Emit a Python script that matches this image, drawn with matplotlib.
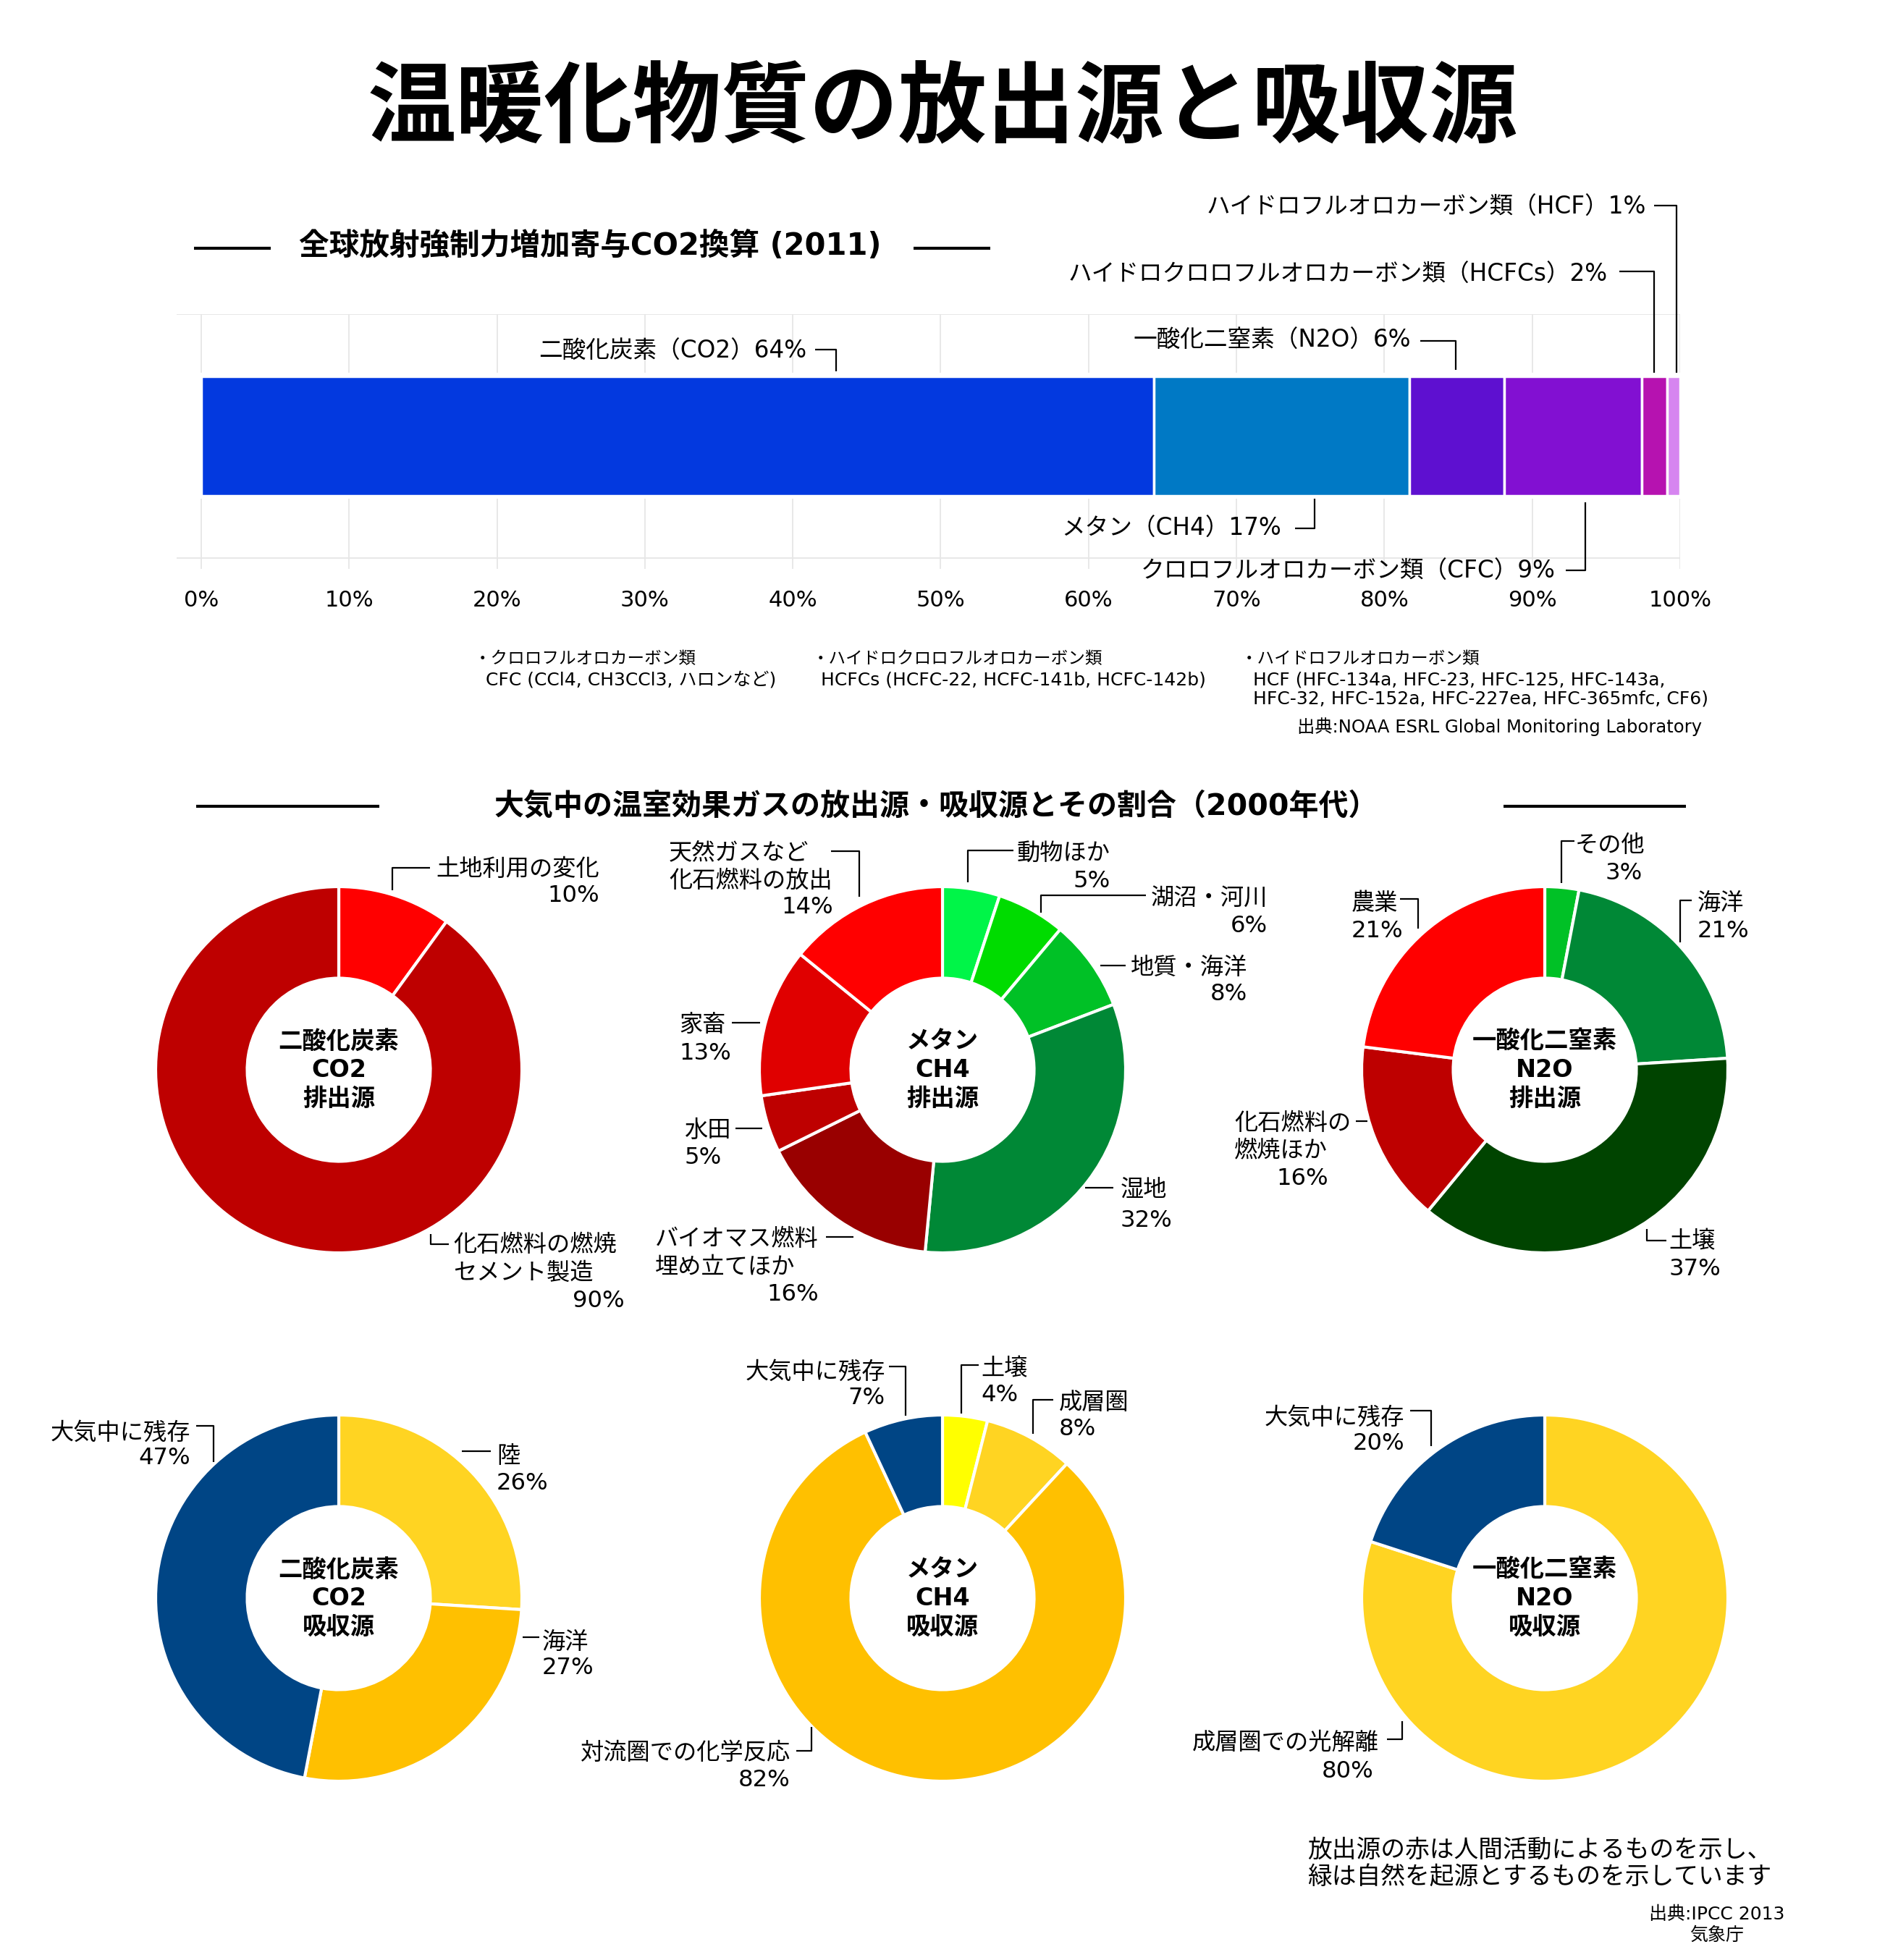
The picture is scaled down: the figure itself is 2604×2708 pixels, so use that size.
import numpy as np
import matplotlib
matplotlib.use('Agg')
import matplotlib.pyplot as plt

plt.rcParams['font.family'] = ['DejaVu Sans', 'Noto Sans CJK JP']

W, H = 2604, 2708
PX = 100 / 72  # pixels per point

# ---------------- data ----------------
title = '温暖化物質の放出源と吸収源'

bar_title = '全球放射強制力増加寄与CO2換算 (2011)'
bar_names = ['二酸化炭素（CO2）', 'メタン（CH4）', '一酸化二窒素（N2O）',
             'クロロフルオロカーボン類（CFC）',
             'ハイドロクロロフルオロカーボン類（HCFCs）',
             'ハイドロフルオロカーボン類（HCF）']
bar_shares = [64.4, 17.3, 6.4, 9.3, 1.7, 0.9]
bar_pct = [64, 17, 6, 9, 2, 1]
bar_colors = ['#0339df', '#0079c5', '#5e10d0', '#8210d2', '#b612b0', '#d685f0']
bar_ticks = [0, 10, 20, 30, 40, 50, 60, 70, 80, 90, 100]

notes = [
    ['・クロロフルオロカーボン類', 'CFC (CCl4, CH3CCl3, ハロンなど)'],
    ['・ハイドロクロロフルオロカーボン類', 'HCFCs (HCFC-22, HCFC-141b, HCFC-142b)'],
    ['・ハイドロフルオロカーボン類', 'HCF (HFC-134a, HFC-23, HFC-125, HFC-143a,',
     'HFC-32, HFC-152a, HFC-227ea, HFC-365mfc, CF6)'],
]
bar_source = '出典:NOAA ESRL Global Monitoring Laboratory'

donut_title = '大気中の温室効果ガスの放出源・吸収源とその割合（2000年代）'

co2_src_names = ['土地利用の変化', '化石燃料の燃焼\nセメント製造']
co2_src_values = [10, 90]
co2_src_shares = [10, 90]
co2_src_colors = ['#ff0000', '#be0000']

ch4_src_names = ['動物ほか', '湖沼・河川', '地質・海洋', '湿地', 'バイオマス燃料\n埋め立てほか',
                 '水田', '家畜', '天然ガスなど\n化石燃料の放出']
ch4_src_values = [5, 6, 8, 32, 16, 5, 13, 14]
ch4_src_shares = [5, 6, 8, 32, 16, 5, 13, 14]
ch4_src_colors = ['#00f548', '#00dc00', '#00c126', '#008836', '#990000',
                  '#be0000', '#e00000', '#ff0000']

n2o_src_names = ['その他', '海洋', '土壌', '化石燃料の\n燃焼ほか', '農業']
n2o_src_values = [3, 21, 37, 16, 21]
n2o_src_shares = [3, 21, 37, 16, 23]   # slice sizes as drawn
n2o_src_colors = ['#00c126', '#008836', '#004400', '#be0000', '#ff0000']

co2_sink_names = ['陸', '海洋', '大気中に残存']
co2_sink_values = [26, 27, 47]
co2_sink_shares = [26, 27, 47]
co2_sink_colors = ['#ffd422', '#ffc000', '#004585']

ch4_sink_names = ['土壌', '成層圏', '対流圏での化学反応', '大気中に残存']
ch4_sink_values = [4, 8, 82, 7]
ch4_sink_shares = [4, 8, 82, 7]
ch4_sink_colors = ['#ffff00', '#ffd422', '#ffc000', '#004585']

n2o_sink_names = ['成層圏での光解離', '大気中に残存']
n2o_sink_values = [80, 20]
n2o_sink_shares = [80, 20]
n2o_sink_colors = ['#ffd422', '#004585']

center_titles = [['二酸化炭素', 'CO2'], ['メタン', 'CH4'], ['一酸化二窒素', 'N2O']]
row_kinds = ['排出源', '吸収源']

foot_note = ['放出源の赤は人間活動によるものを示し、', '緑は自然を起源とするものを示しています']
foot_source = ['出典:IPCC 2013', '気象庁']

# ---------------- layout (pixels) ----------------
R = 253
col_x = [468, 1302, 2134]
row_y = [1478, 2208]

bar_label_pos = [(1114, 483), (1770, 728), (1949, 468), (2149, 787), (2221, 377), (2274, 284)]
bar_leaders = [
    [(1126, 483), (1155, 483), (1155, 513)],
    [(1789, 730), (1816, 730), (1816, 689)],
    [(1962, 471), (2011, 471), (2011, 511)],
    [(2163, 788), (2190, 788), (2190, 694)],
    [(2237, 375), (2285, 375), (2285, 515)],
    [(2285, 284), (2316, 284), (2316, 515)],
]

# per slice: (name x, first line y, ha), (pct x, y, ha), leader polyline
donut_layouts = [
    # CO2 source
    [((828, 1198, 'right'), (828, 1234, 'right'), [(594, 1199), (542, 1199), (542, 1230)]),
     ((626, 1717, 'left'), (863, 1794, 'right'), [(595, 1705), (595, 1719), (620, 1719)])],
    # CH4 source
    [((1534, 1176, 'right'), (1534, 1214, 'right'), [(1400, 1175), (1337, 1175), (1337, 1219)]),
     ((1751, 1238, 'right'), (1751, 1276, 'right'), [(1583, 1237), (1438, 1237), (1438, 1261)]),
     ((1723, 1334, 'right'), (1723, 1370, 'right'), [(1520, 1334), (1555, 1334)]),
     ((1548, 1641, 'left'), (1548, 1683, 'left'), [(1499, 1641), (1538, 1641)]),
     ((905, 1709, 'left'), (1131, 1785, 'right'), [(1141, 1709), (1179, 1709)]),
     ((945, 1559, 'left'), (945, 1596, 'left'), [(1016, 1559), (1053, 1559)]),
     ((938, 1413, 'left'), (938, 1452, 'left'), [(1011, 1413), (1050, 1413)]),
     ((924, 1175, 'left'), (1151, 1250, 'right'), [(1148, 1176), (1187, 1176), (1187, 1239)])],
    # N2O source
    [((2272, 1165, 'right'), (2269, 1203, 'right'), [(2175, 1162), (2157, 1162), (2157, 1220)]),
     ((2345, 1245, 'left'), (2345, 1283, 'left'), [(2337, 1244), (2321, 1244), (2321, 1302)]),
     ((2305, 1712, 'left'), (2305, 1750, 'left'), [(2275, 1698), (2275, 1714), (2302, 1714)]),
     ((1705, 1549, 'left'), (1835, 1625, 'right'), [(1873, 1549), (1889, 1549)]),
     ((1867, 1245, 'left'), (1867, 1283, 'left'), [(1934, 1242), (1959, 1242), (1959, 1283)])],
    # CO2 sink
    [((686, 2009, 'left'), (686, 2046, 'left'), [(638, 2005), (678, 2005)]),
     ((749, 2266, 'left'), (749, 2301, 'left'), [(722, 2262), (745, 2262)]),
     ((263, 1977, 'right'), (263, 2011, 'right'), [(271, 1970), (295, 1970), (295, 2020)])],
    # CH4 sink
    [((1355, 1888, 'left'), (1355, 1924, 'left'), [(1352, 1886), (1328, 1886), (1328, 1953)]),
     ((1463, 1935, 'left'), (1463, 1971, 'left'), [(1455, 1934), (1427, 1934), (1427, 1981)]),
     ((1092, 2419, 'right'), (1092, 2456, 'right'), [(1100, 2419), (1121, 2419), (1121, 2386)]),
     ((1223, 1893, 'right'), (1223, 1928, 'right'), [(1228, 1888), (1251, 1888), (1251, 1956)])],
    # N2O sink
    [((1905, 2405, 'right'), (1897, 2444, 'right'), [(1916, 2403), (1937, 2403), (1937, 2378)]),
     ((1940, 1956, 'right'), (1940, 1991, 'right'), [(1948, 1949), (1977, 1949), (1977, 1998)])],
]

donuts = [
    (co2_src_names, co2_src_values, co2_src_shares, co2_src_colors),
    (ch4_src_names, ch4_src_values, ch4_src_shares, ch4_src_colors),
    (n2o_src_names, n2o_src_values, n2o_src_shares, n2o_src_colors),
    (co2_sink_names, co2_sink_values, co2_sink_shares, co2_sink_colors),
    (ch4_sink_names, ch4_sink_values, ch4_sink_shares, ch4_sink_colors),
    (n2o_sink_names, n2o_sink_values, n2o_sink_shares, n2o_sink_colors),
]

fig = plt.figure(figsize=(W / 100, H / 100), dpi=100)
fig.patch.set_facecolor('white')

# ---------------- stacked bar ----------------
x0_px, px_per_pct = 278, 20.43
ax_b = fig.add_axes([244 / W, 1 - 786 / H, (2321 - 244) / W, (786 - 434) / H])
ax_b.set_xlim((244 - x0_px) / px_per_pct, 100)
ax_b.set_ylim(786, 434)
grid_c = '#e6e6e6'
ax_b.hlines([434, 771], (244 - x0_px) / px_per_pct, 100, color=grid_c, lw=1.3, zorder=0)
ax_b.vlines(bar_ticks, 434, 515, color=grid_c, lw=1.3, zorder=0)
ax_b.vlines(bar_ticks, 689, 786, color=grid_c, lw=1.3, zorder=0)
lefts = np.concatenate([[0], np.cumsum(bar_shares)[:-1]])
ax_b.barh(602.5, bar_shares, left=lefts, height=165, color=bar_colors,
          edgecolor='white', linewidth=2.5, zorder=2)
ax_b.set_xticks(bar_ticks, [f'{t}%' for t in bar_ticks])
ax_b.set_yticks([])
ax_b.tick_params(axis='x', length=0, pad=20.7, labelsize=22)
for s in ax_b.spines.values():
    s.set_visible(False)
ax_b.patch.set_alpha(0)

# ---------------- donuts ----------------
for i, (names, values, shares, colors) in enumerate(donuts):
    cx = col_x[i % 3]
    cy = row_y[i // 3]
    ax = fig.add_axes([(cx - R) / W, 1 - (cy + R) / H, 2 * R / W, 2 * R / H])
    ax.pie(shares, colors=colors, startangle=90, counterclock=False, radius=1,
           wedgeprops=dict(width=0.5, edgecolor='white', linewidth=3))
    ax.set_xlim(-1, 1)
    ax.set_ylim(-1, 1)
    ax.set_aspect('equal')
    ax.axis('off')

# ---------------- overlay for text ----------------
ov = fig.add_axes([0, 0, 1, 1], zorder=10)
ov.set_xlim(0, W)
ov.set_ylim(H, 0)
ov.axis('off')
ov.patch.set_alpha(0)


def put(x, y, s, size, ha='left', weight='normal'):
    # y is the visual centre of the line
    ov.text(x, y + 0.37 * size * PX, s, fontsize=size, ha=ha, va='baseline',
            fontweight=weight, color='black')


def lead(pts, lw=1.6):
    xs, ys = zip(*pts)
    ov.plot(xs, ys, color='black', lw=lw, solid_capstyle='butt')


put(W / 2, 142, title, 88, ha='center', weight='bold')

# bar section
put(815, 337, bar_title, 30, ha='center', weight='bold')
lead([(268, 343), (374, 343)], lw=3)
lead([(1262, 343), (1368, 343)], lw=3)
for name, p, (lx, ly), ldr in zip(bar_names, bar_pct, bar_label_pos, bar_leaders):
    put(lx, ly, f'{name}{p}%', 23.5, ha='right')
    lead(ldr)

note_x = [(655, 671), (1122, 1134), (1714, 1731)]
for lines, (xa, xb) in zip(notes, note_x):
    put(xa, 908, lines[0], 17)
    for k, ln in enumerate(lines[1:]):
        put(xb, 937 + 26 * k, ln, 18)
put(2351, 1003, bar_source, 17.5, ha='right')

# donut section
put(1293, 1110, donut_title, 29.5, ha='center', weight='bold')
lead([(271, 1114), (524, 1114)], lw=3)
lead([(2077, 1114), (2329, 1114)], lw=3)

for i, (names, values, shares, colors) in enumerate(donuts):
    for name, v, (npos, ppos, ldr) in zip(names, values, donut_layouts[i]):
        nx, ny, nha = npos
        for k, ln in enumerate(name.split('\n')):
            put(nx, ny + 38.5 * k, ln, 23.2, ha=nha)
        put(ppos[0], ppos[1], f'{v}%', 23.2, ha=ppos[2])
        lead(ldr)
    cx = col_x[i % 3]
    cy = row_y[i // 3]
    lines = center_titles[i % 3] + [row_kinds[i // 3]]
    for k, ln in enumerate(lines):
        put(cx, cy - 42 + 40 * k, ln, 24, ha='center', weight='bold')

put(1806, 2553, foot_note[0], 24.3)
put(1806, 2590, foot_note[1], 24.3)
put(2372, 2643, foot_source[0], 18, ha='center')
put(2372, 2672, foot_source[1], 18, ha='center')

fig.savefig('out.png', dpi=100, facecolor='white')
